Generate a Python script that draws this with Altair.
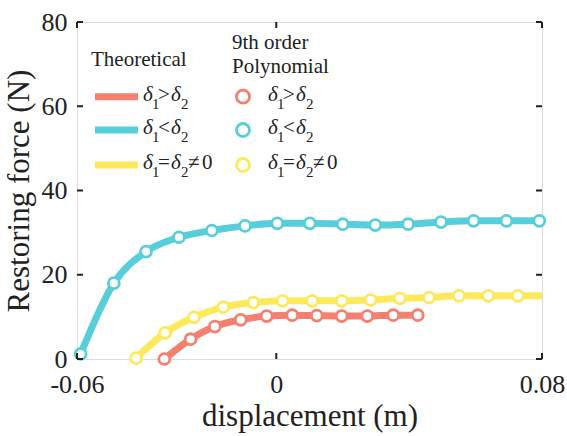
import altair as alt
import pandas as pd

FONT = "'Liberation Serif', 'Times New Roman', Times, serif"
INK = "#222222"

series = ["gt", "lt", "eq"]
colors = ["#F5806F", "#58CEDB", "#FCEA5C"]

# 9th order polynomial points
red_x = [-0.0337, -0.0258, -0.0185, -0.0107, -0.0029, 0.0048, 0.0122, 0.0197, 0.0274, 0.0352, 0.0426]
red_y = [0.0, 4.7, 7.7, 9.3, 10.2, 10.4, 10.3, 10.2, 10.2, 10.4, 10.4]
cyan_x = [-0.0589, -0.0489, -0.0392, -0.0293, -0.0194, -0.0094, 0.0003, 0.0101, 0.0200,
          0.0298, 0.0397, 0.0496, 0.0594, 0.0693, 0.0792]
cyan_y = [1.2, 18.0, 25.5, 28.9, 30.5, 31.6, 32.2, 32.2, 32.0, 31.8, 32.0, 32.5, 32.8, 32.8, 32.8]
yel_x = [-0.0422, -0.0335, -0.0248, -0.0160, -0.0069, 0.0019, 0.0108, 0.0197, 0.0284,
         0.0372, 0.0460, 0.0550, 0.0638, 0.0727]
yel_y = [0.2, 6.2, 9.9, 12.3, 13.4, 13.8, 13.8, 13.8, 14.0, 14.4, 14.6, 15.0, 15.0, 15.0]

# Theoretical curves
th_red_x = [-0.0337, -0.0258, -0.0185, -0.0107, -0.0029, 0.0048, 0.0122, 0.0197, 0.0274, 0.0352, 0.0426]
th_red_y = [0.0, 4.7, 7.7, 9.3, 10.2, 10.4, 10.3, 10.2, 10.2, 10.4, 10.4]
th_cyan_x = [-0.0589, -0.0489, -0.0392, -0.0293, -0.0194, -0.0094, 0.0003, 0.0101, 0.0200,
             0.0298, 0.0397, 0.0496, 0.0594, 0.0693, 0.0800]
th_cyan_y = [1.2, 18.0, 25.5, 28.9, 30.5, 31.6, 32.2, 32.2, 32.0, 31.8, 32.0, 32.5, 32.8, 32.8, 32.9]
th_yel_x = [-0.0422, -0.0335, -0.0248, -0.0160, -0.0069, 0.0019, 0.0108, 0.0197, 0.0284,
            0.0372, 0.0460, 0.0550, 0.0638, 0.0727, 0.0800]
th_yel_y = [0.2, 6.2, 9.9, 12.3, 13.4, 13.8, 13.8, 13.8, 14.0, 14.4, 14.6, 15.0, 15.0, 15.0, 15.0]

x_ticks = [-0.06, 0.0, 0.08]
y_ticks = [0, 20, 40, 60, 80]

W, H = 465, 337

pts = pd.concat([
    pd.DataFrame({"x": cyan_x, "y": cyan_y, "s": "lt", "o": 0}),
    pd.DataFrame({"x": yel_x, "y": yel_y, "s": "eq", "o": 1}),
    pd.DataFrame({"x": red_x, "y": red_y, "s": "gt", "o": 2}),
], ignore_index=True)
lines = pd.concat([
    pd.DataFrame({"x": th_cyan_x, "y": th_cyan_y, "s": "lt", "o": 0}),
    pd.DataFrame({"x": th_yel_x, "y": th_yel_y, "s": "eq", "o": 1}),
    pd.DataFrame({"x": th_red_x, "y": th_red_y, "s": "gt", "o": 2}),
], ignore_index=True)

xscale = alt.Scale(domain=[-0.06, 0.08], nice=False, zero=False)
yscale = alt.Scale(domain=[0, 80], nice=False, zero=False)
cscale = alt.Scale(domain=series, range=colors)

xaxis = alt.Axis(values=x_ticks, title="displacement (m)",
                 labelExpr="datum.value == 0 ? '0' : (datum.value < 0 ? '-' : '') + format(abs(datum.value), '.2f')",
                 tickSize=0, domain=False, grid=False, labelFlush=False, labelOverlap=False,
                 labelFontSize=26, titleFontSize=31, labelPadding=12, titlePadding=4,
                 labelFont=FONT, titleFont=FONT, labelColor=INK, titleColor=INK,
                 titleFontWeight="normal")
yaxis = alt.Axis(values=y_ticks, title="Restoring force (N)", format="d",
                 tickSize=0, domain=False, grid=False, labelFlush=False, labelOverlap=False,
                 labelFontSize=26, titleFontSize=31, labelPadding=10, titlePadding=6,
                 labelFont=FONT, titleFont=FONT, labelColor=INK, titleColor=INK,
                 titleFontWeight="normal")

line_layer = alt.Chart(lines).mark_line(strokeWidth=7, interpolate="monotone", strokeCap="butt").encode(
    x=alt.X("x:Q", scale=xscale, axis=xaxis),
    y=alt.Y("y:Q", scale=yscale, axis=yaxis),
    color=alt.Color("s:N", scale=cscale, legend=None),
    detail="s:N",
    order="o:Q",
)
pt_layer = alt.Chart(pts).mark_point(shape="circle", filled=False, fill="white", fillOpacity=1,
                                     strokeWidth=2.8, size=119, opacity=1).encode(
    x=alt.X("x:Q", scale=xscale),
    y=alt.Y("y:Q", scale=yscale),
    color=alt.Color("s:N", scale=cscale, legend=None),
)

xt = pd.DataFrame({"x": x_ticks})
yt = pd.DataFrame({"y": y_ticks})
tick_layers = [
    alt.Chart(xt).mark_rule(color=INK, strokeWidth=2).encode(
        x=alt.X("x:Q", scale=xscale), y=alt.value(H), y2=alt.value(H - 6)),
    alt.Chart(xt).mark_rule(color=INK, strokeWidth=2).encode(
        x=alt.X("x:Q", scale=xscale), y=alt.value(0), y2=alt.value(6)),
    alt.Chart(yt).mark_rule(color=INK, strokeWidth=2).encode(
        y=alt.Y("y:Q", scale=yscale), x=alt.value(0), x2=alt.value(6)),
    alt.Chart(yt).mark_rule(color=INK, strokeWidth=2).encode(
        y=alt.Y("y:Q", scale=yscale), x=alt.value(W), x2=alt.value(W - 6)),
]

# ---- legend (hand-built) ----
one = alt.Data(values=[{"a": 1}])
leg = []


def txt(s, x, y, size=21, style="normal"):
    return alt.Chart(one).mark_text(text=s, font=FONT, fontSize=size, fontStyle=style,
                                    align="left", baseline="alphabetic", color=INK).encode(
        x=alt.value(x), y=alt.value(y))


leg.append(txt("Theoretical", 14, 44))
leg.append(txt("9th order", 155, 27))
leg.append(txt("Polynomial", 155, 51))

row_y = [74.7, 108, 143]
ops = [">", "<", "="]
for i, (s, c) in enumerate(zip(series, colors)):
    ry = row_y[i]
    leg.append(alt.Chart(one).mark_rule(color=c, strokeWidth=7).encode(
        x=alt.value(18), x2=alt.value(61), y=alt.value(ry)))
    leg.append(alt.Chart(one).mark_point(shape="circle", filled=False, fill="white", fillOpacity=1,
                                         strokeWidth=2.8, size=170, color=c, opacity=1).encode(
        x=alt.value(166), y=alt.value(ry)))
    for x0 in (66, 191):
        leg.append(txt("δ", x0, ry + 4, 21, "italic"))
        leg.append(txt("1", x0 + 9, ry + 12, 15))
        leg.append(txt(ops[i], x0 + 15, ry + 4, 21))
        leg.append(txt("δ", x0 + 28, ry + 4, 21, "italic"))
        leg.append(txt("2", x0 + 38, ry + 12, 15))
        if i == 2:
            leg.append(txt("≠", x0 + 45, ry + 4, 21))
            leg.append(txt("0", x0 + 59, ry + 4, 21))

chart = alt.layer(line_layer, pt_layer, *tick_layers, *leg).properties(
    width=W, height=H,
    autosize=alt.AutoSizeParams(type="none"),
    padding={"left": 77, "top": 22, "right": 25, "bottom": 77},
).configure_view(stroke=INK, strokeWidth=2).configure(background="white", font=FONT)

chart.save("out.html", embed_options={"renderer": "svg", "actions": False})
